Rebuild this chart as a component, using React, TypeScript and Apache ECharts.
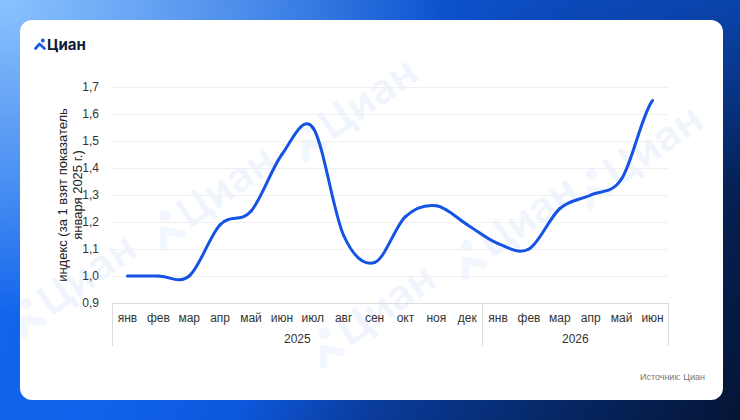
import React, { useEffect, useRef } from "react";
import * as echarts from "echarts";

const months = ["янв", "фев", "мар", "апр", "май", "июн", "июл", "авг", "сен", "окт", "ноя", "дек", "янв", "фев", "мар", "апр", "май", "июн"];
const years = ["2025", "2026"];
const yearBounds = [0, 12, 18];
const yearCenters = [6, 15];
const indexValues = [1.0, 1.0, 1.0, 1.19, 1.24, 1.45, 1.55, 1.15, 1.05, 1.22, 1.26, 1.19, 1.12, 1.1, 1.25, 1.3, 1.36, 1.65];
const yMin = 0.9;
const yMax = 1.7;
const yStep = 0.1;
const axisName = "индекс (за 1 взят показатель\nянваря 2025 г.)";
const sourceText = "Источник: Циан";
const brand = "Циан";
const watermarkSpots = [
  [26, 343],
  [165, 255],
  [307, 167],
  [325, 373],
  [467, 285],
  [592, 214],
];

const FONT = "'Liberation Sans', Arial, sans-serif";
const LINE_COLOR = "#1553e5";
const WM = "rgba(30,100,235,0.06)";

function Watermark({ x, y }: { x: number; y: number }) {
  return (
    <div
      style={{
        position: "absolute",
        left: x - 20,
        top: y - 20 - 44,
        height: 44,
        transform: "rotate(-35deg)",
        transformOrigin: "0% 100%",
        color: WM,
        fontSize: 42,
        fontWeight: 700,
        fontFamily: "Inter, sans-serif",
        lineHeight: "44px",
        whiteSpace: "nowrap",
        display: "flex",
        alignItems: "flex-end",
      }}
    >
      <svg width="32" height="36" viewBox="0 0 30 34" style={{ marginRight: 3, marginBottom: 4 }}>
        <circle cx="21" cy="7" r="5.5" fill={WM} />
        <polyline points="3,31 12,18 24,31" fill="none" stroke={WM} strokeWidth="7" strokeLinecap="round" strokeLinejoin="round" />
      </svg>
      <span>{brand}</span>
    </div>
  );
}

export default function App() {
  const ref = useRef<HTMLDivElement>(null);

  useEffect(() => {
    if (!ref.current) return;
    const chart = echarts.init(ref.current, undefined, { renderer: "svg" });
    const n = indexValues.length;
    const at = (i: number) => indexValues[Math.max(0, Math.min(n - 1, i))];
    chart.setOption({
      animation: false,
      backgroundColor: "transparent",
      textStyle: { fontFamily: FONT },
      grid: { left: 112, right: 72, top: 87, bottom: 117 },
      xAxis: [
        {
          type: "category",
          position: "bottom",
          data: months,
          boundaryGap: true,
          axisLine: { show: true, lineStyle: { color: "#dcdcdc", width: 1 } },
          axisTick: { show: false },
          axisLabel: { color: "#333", fontSize: 12, margin: 9, fontFamily: FONT, interval: 0 },
          splitLine: { show: false },
        },
        {
          type: "value",
          position: "bottom",
          min: 0,
          max: 18,
          axisLine: { show: false },
          splitLine: { show: false },
          axisTick: {
            show: true,
            customValues: yearBounds,
            length: 43,
            lineStyle: { color: "#dcdcdc", width: 1 },
          },
          axisLabel: {
            customValues: yearCenters,
            formatter: (v: number) => (v < 12 ? years[0] : years[1]),
            color: "#333",
            fontSize: 12,
            margin: 30,
            fontFamily: FONT,
          },
        },
      ],
      yAxis: {
        type: "value",
        min: yMin,
        max: yMax,
        interval: yStep,
        axisLine: { show: false },
        axisTick: { show: false },
        splitLine: { show: true, lineStyle: { color: "#f0f0f0", width: 1 } },
        axisLabel: {
          color: "#333",
          fontSize: 12,
          margin: 13,
          fontFamily: FONT,
          formatter: (v: number) => v.toFixed(1).replace(".", ","),
        },
        name: axisName,
        nameLocation: "middle",
        nameRotate: 90,
        nameGap: 27,
        nameMoveOverlap: false,
        nameTextStyle: { color: "#222", fontSize: 13, lineHeight: 15, fontFamily: FONT },
      },
      series: [
        {
          type: "custom",
          xAxisIndex: 0,
          yAxisIndex: 0,
          data: indexValues.map((v, i) => [i, v]),
          encode: { x: 0, y: 1 },
          z: 5,
          renderItem: (params: any, api: any) => {
            const i = params.dataIndex;
            if (i >= n - 1) return null;
            const p0 = api.coord([Math.max(0, i - 1), at(i - 1)]);
            const p1 = api.coord([i, at(i)]);
            const p2 = api.coord([i + 1, at(i + 1)]);
            const p3 = api.coord([Math.min(n - 1, i + 2), at(i + 2)]);
            const k = 1 / 6;
            const fx0 = i === 0 ? p1[0] - (p2[0] - p1[0]) : p0[0];
            const fy0 = i === 0 ? p1[1] : p0[1];
            const fx3 = i + 2 > n - 1 ? p2[0] + (p2[0] - p1[0]) : p3[0];
            const fy3 = i + 2 > n - 1 ? p2[1] : p3[1];
            return {
              type: "bezierCurve",
              shape: {
                x1: p1[0],
                y1: p1[1],
                cpx1: p1[0] + (p2[0] - fx0) * k,
                cpy1: p1[1] + (p2[1] - fy0) * k,
                cpx2: p2[0] - (fx3 - p1[0]) * k,
                cpy2: p2[1] - (fy3 - p1[1]) * k,
                x2: p2[0],
                y2: p2[1],
              },
              style: { stroke: LINE_COLOR, lineWidth: 3, fill: null, lineCap: "round" },
            };
          },
        },
      ],
      graphic: [
        {
          type: "polyline",
          shape: { points: [[35.5, 48.5], [39.5, 44], [44.5, 48.5]] },
          style: { stroke: "#1a5ce8", lineWidth: 2.8, fill: null, lineCap: "round", lineJoin: "round" },
        },
        {
          type: "circle",
          shape: { cx: 42.8, cy: 40.6, r: 2 },
          style: { fill: "#1a5ce8" },
        },
        {
          type: "text",
          x: 47,
          y: 44.5,
          style: {
            text: brand,
            fontSize: 15,
            fontWeight: "bold",
            fontFamily: "Inter, sans-serif",
            fill: "#0f1e3d",
            verticalAlign: "middle",
          },
        },
        {
          type: "text",
          x: 705,
          y: 377,
          style: {
            text: sourceText,
            fontSize: 9,
            fontFamily: FONT,
            fill: "#777",
            align: "right",
            verticalAlign: "middle",
          },
        },
      ],
    });
    return () => chart.dispose();
  }, []);

  return (
    <div
      style={{
        position: "fixed",
        left: 0,
        top: 0,
        width: 740,
        height: 420,
        overflow: "hidden",
        background:
          "radial-gradient(ellipse 80% 100% at 0% 0%, rgba(140,195,255,1) 0%, rgba(120,180,250,0.6) 40%, rgba(100,160,245,0) 75%), linear-gradient(to bottom, rgba(12,80,200,0.7) 0%, rgba(12,80,200,0) 45%), linear-gradient(115deg, #1466ec 0%, #1063ea 30%, #0d58dc 46%, #0a3c9c 60%, #06296a 78%, #041535 100%)",
      }}
    >
      <div
        style={{
          position: "absolute",
          left: 20,
          top: 20,
          width: 703,
          height: 380,
          borderRadius: 12,
          background: "#fff",
          overflow: "hidden",
        }}
      >
        {watermarkSpots.map(([x, y], i) => (
          <Watermark key={i} x={x} y={y} />
        ))}
      </div>
      <div ref={ref} style={{ position: "absolute", left: 0, top: 0, width: 740, height: 420 }} />
    </div>
  );
}
